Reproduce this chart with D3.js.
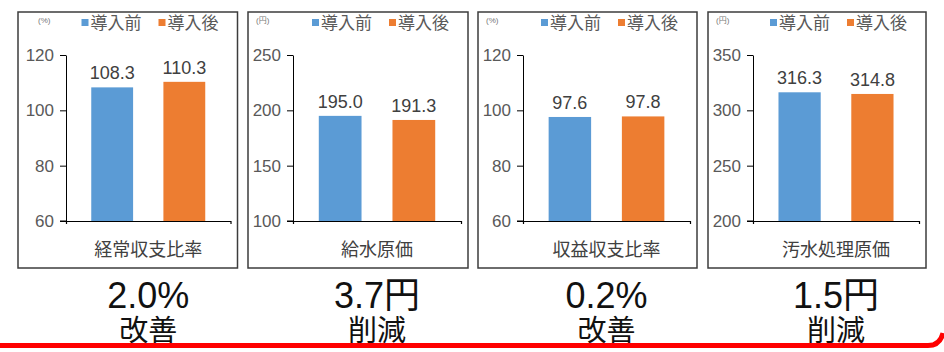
<!DOCTYPE html>
<html><head><meta charset="utf-8">
<script src="https://cdn.jsdelivr.net/npm/d3@7"></script>
<style>
body{margin:0;background:#fff;}
svg{display:block;font-family:"Liberation Sans","Noto Sans CJK JP",sans-serif;}
</style></head>
<body><svg id="c" width="944" height="352"></svg>
<script>
const categories = ["経常収支比率", "給水原価", "収益収支比率", "汚水処理原価"];
const seriesNames = ["導入前", "導入後"];
const beforeValues = [108.3, 195.0, 97.6, 316.3];
const afterValues = [110.3, 191.3, 97.8, 314.8];
const units = ["(%)", "(円)", "(%)", "(円)"];
const yDomains = [[60, 120], [100, 250], [60, 120], [200, 350]];
const yTicks = [[60, 80, 100, 120], [100, 150, 200, 250], [60, 80, 100, 120], [200, 250, 300, 350]];
const summaryValues = ["2.0%", "3.7円", "0.2%", "1.5円"];
const summaryLabels = ["改善", "削減", "改善", "削減"];

const colors = ["#5b9bd5", "#ed7d31"];
const layout = {
  panelX: [18, 248, 478, 708],
  panelW: [219.5, 220, 219, 218],
  axisOff: [48, 45, 45, 45],
  unitOff: [20, 8, 8, 8],
  top: 12, bottom: 268, yTop: 55, yBottom: 221
};

const svg = d3.select("#c");
const fmt = d3.format(".1f");

categories.forEach((cat, i) => {
  const px = layout.panelX[i], pw = layout.panelW[i];
  const g = svg.append("g");
  g.append("rect").attr("x", px).attr("y", layout.top)
    .attr("width", pw).attr("height", layout.bottom - layout.top)
    .attr("fill", "#fff").attr("stroke", "#3c3c3c").attr("stroke-width", 1.5);

  const x0 = px + layout.axisOff[i], x1 = px + pw - 7;
  const x = d3.scaleBand().domain(seriesNames).range([x0, x1]).paddingInner(0.42).paddingOuter(0.35);
  const y = d3.scaleLinear().domain(yDomains[i]).range([layout.yBottom, layout.yTop]);

  // y axis
  const ya = g.append("g").attr("transform", `translate(${x0},0)`)
    .call(d3.axisLeft(y).tickValues(yTicks[i]).tickSize(6).tickSizeOuter(0).tickPadding(6).tickFormat(d3.format("d")));
  ya.selectAll("text").attr("fill", "#595959").style("font-size", "17px");
  ya.selectAll("line,path").attr("stroke", "#000");

  // x axis
  const xa = g.append("g").attr("transform", `translate(0,${layout.yBottom})`)
    .call(d3.axisBottom(x).tickSize(0).tickSizeOuter(3).tickFormat(""));
  xa.select("path").attr("stroke", "#000").attr("stroke-width", 1.2);
  g.append("line").attr("x1", x0 - 6).attr("x2", x0).attr("y1", layout.yBottom).attr("y2", layout.yBottom).attr("stroke", "#000");

  const vals = [beforeValues[i], afterValues[i]];
  g.selectAll("rect.bar").data(vals).enter().append("rect").attr("class", "bar")
    .attr("x", (d, j) => x(seriesNames[j])).attr("width", x.bandwidth())
    .attr("y", d => y(d)).attr("height", d => layout.yBottom - y(d))
    .attr("fill", (d, j) => colors[j]);
  g.selectAll("text.val").data(vals).enter().append("text").attr("class", "val")
    .attr("x", (d, j) => x(seriesNames[j]) + x.bandwidth() / 2)
    .attr("y", d => y(d) - 8).attr("text-anchor", "middle")
    .attr("fill", "#404040").style("font-size", "18px").text(d => fmt(d));

  // category label
  g.append("text").attr("x", (x0 + x1) / 2).attr("y", 256).attr("text-anchor", "middle")
    .attr("fill", "#404040").style("font-size", "18px").text(cat);

  // unit
  g.append("text").attr("x", px + layout.unitOff[i]).attr("y", 23)
    .attr("fill", "#777").style("font-size", "8px").text(units[i]);

  // legend
  const lx = px + pw - 156;
  seriesNames.forEach((s, j) => {
    const ix = lx + j * 77;
    g.append("rect").attr("x", ix).attr("y", 19).attr("width", 7).attr("height", 7).attr("fill", colors[j]);
    g.append("text").attr("x", ix + 9).attr("y", 29).attr("fill", "#595959")
      .style("font-size", "17px").text(s);
  });

  // summary
  const cx = (x0 + x1) / 2;
  svg.append("text").attr("x", cx).attr("y", 308).attr("text-anchor", "middle")
    .attr("fill", "#111").style("font-size", "36px").text(summaryValues[i]);
  svg.append("text").attr("x", cx).attr("y", 341).attr("text-anchor", "middle")
    .attr("fill", "#111").style("font-size", "29px").text(summaryLabels[i]);
});

svg.append("path").attr("d", "M0,345.5 H928 Q940,345.5 943,333")
  .attr("fill", "none").attr("stroke", "#ff0000").attr("stroke-width", 5);
</script></body></html>
